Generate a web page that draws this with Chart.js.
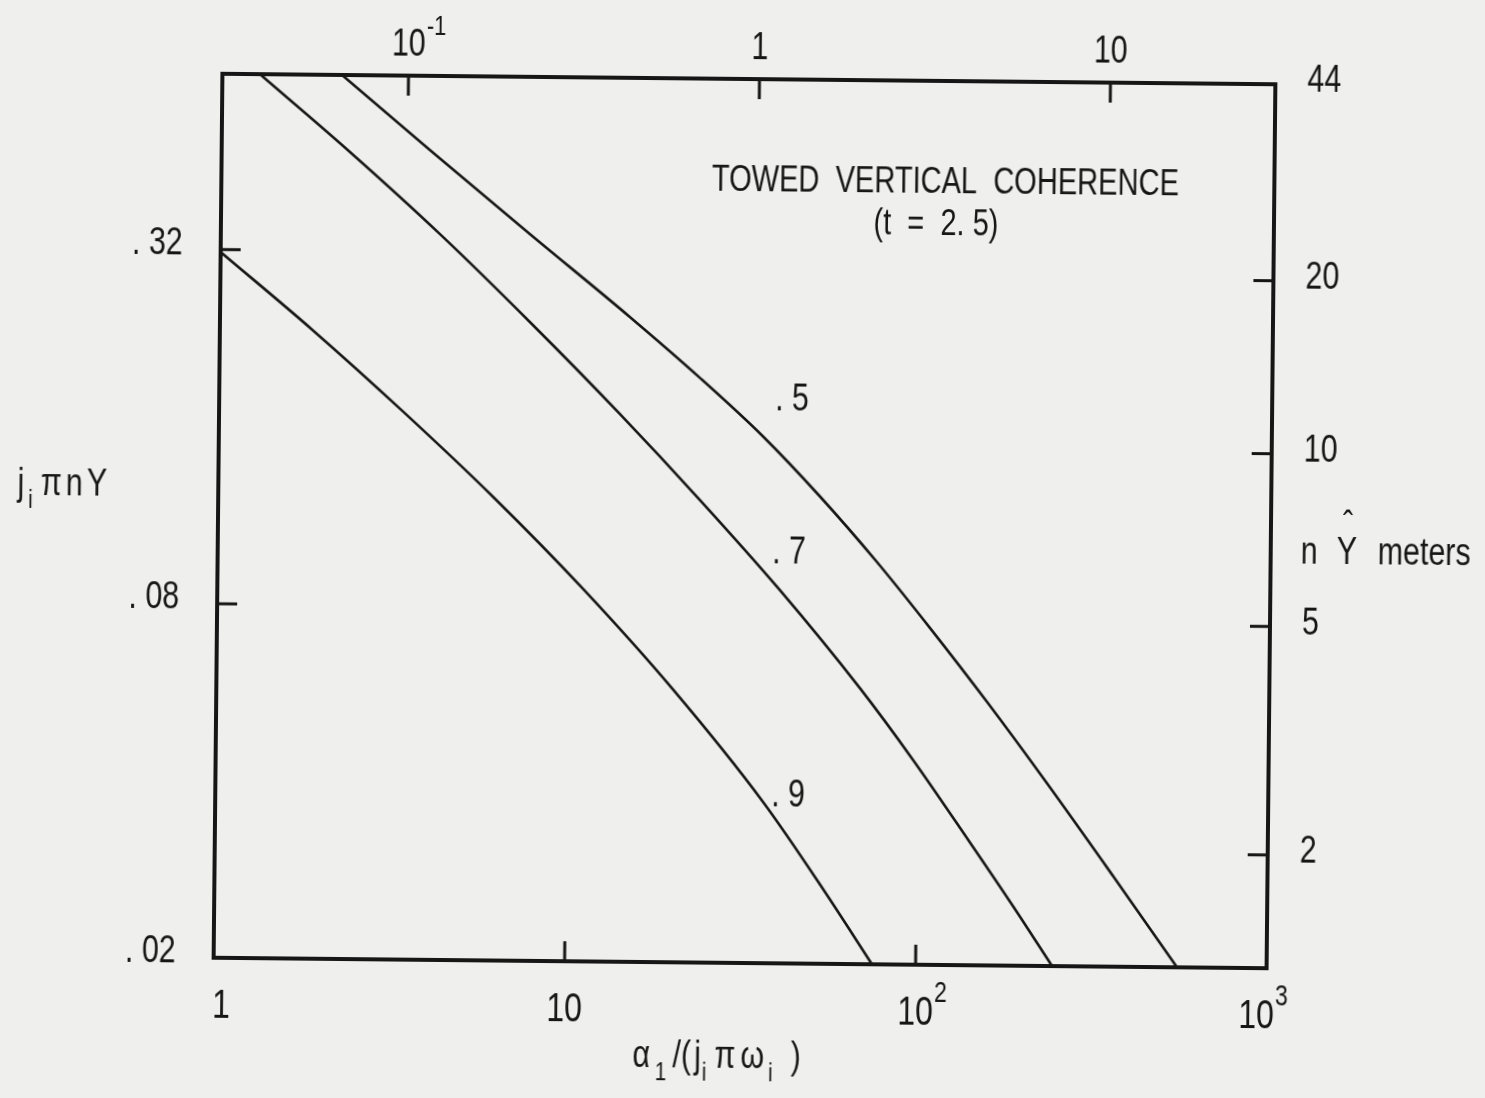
<!DOCTYPE html>
<html>
<head>
<meta charset="utf-8">
<title>Towed vertical coherence</title>
<script src="https://cdn.jsdelivr.net/npm/chart.js@4.4.0/dist/chart.umd.min.js"></script>
<style>
  html, body { margin: 0; padding: 0; background: #efefed; overflow: hidden; }
  #wrap { width: 1485px; height: 1098px; position: relative; overflow: hidden; }
  /* the plate sits slightly askew on the page */
  #chart { display: block; transform: rotate(0.57deg); transform-origin: 744px 521px; }
</style>
</head>
<body>
<div id="wrap"><canvas id="chart" width="1485" height="1098"></canvas></div>
<script>
// x = alpha_1/(j_i pi omega_i), y = j_i pi n Y ; one curve per coherence level
const coherence = ['.9', '.7', '.5'];

const xNine = [1, 1.842, 3.342, 6.064, 11.01, 20.00, 36.37, 54.22, 75.14];
const yNine = [0.3170, 0.2341, 0.1710, 0.1229, 0.0860, 0.0582, 0.0376, 0.0268, 0.02];

const xSeven = [1.279, 2.321, 4.210, 7.641, 13.88, 23.59, 40.10, 68.21, 97.02, 138.96, 188.8, 244.8];
const ySeven = [0.637, 0.4713, 0.3430, 0.2439, 0.1707, 0.1223, 0.0862, 0.0589, 0.0446, 0.0329, 0.02525, 0.02];

const xFive = [2.191, 3.922, 7.597, 14.72, 23.40, 35.51, 51.81, 75.62, 107.5, 157.1, 234.0, 363.0, 555.8];
const yFive = [0.637, 0.4765, 0.3442, 0.2497, 0.1973, 0.1573, 0.1246, 0.0966, 0.0748, 0.0561, 0.0409, 0.02853, 0.02];

// where the coherence value is written next to each curve
const tagText = ['. 9', '. 7', '. 5'];
const tagX = [42.85, 42.43, 42.85];
const tagY = [0.0385, 0.0997, 0.1816];

// axes
const bottomTicks = [1, 10, 100, 1000];
const bottomText = ['1', '10', '10^2', '10^3'];
const topTicks = [0.1, 1, 10];
const topText = ['10^-1', '1', '10'];
const leftTicks = [0.02, 0.08, 0.32];
const leftText = ['. 02', '. 08', '. 32'];
const rightTicks = [2, 5, 10, 20, 44];
const rightText = ['2', '5', '10', '20', '44'];

const titleLine1 = 'TOWED  VERTICAL  COHERENCE';
const titleLine2 = '(t  =  2. 5)';

const ink = '#161616';
const family = '"Liberation Sans", "DejaVu Sans", sans-serif';
const squeeze = 0.8;

function textWidth(ctx, text, size) {
  ctx.save();
  ctx.font = size + 'px ' + family;
  const w = ctx.measureText(text).width * squeeze;
  ctx.restore();
  return w;
}

function drawText(ctx, text, x, y, size, align, sx) {
  ctx.save();
  ctx.font = size + 'px ' + family;
  ctx.fillStyle = ink;
  ctx.textAlign = align || 'center';
  ctx.textBaseline = 'middle';
  ctx.translate(x, y);
  ctx.scale(sx || squeeze, 1);
  ctx.fillText(text, 0, 0);
  ctx.restore();
}

// '10^2' -> "10" with a small raised exponent
function drawTickText(ctx, text, x, y, size, align) {
  const parts = text.split('^');
  const bw = textWidth(ctx, parts[0], size);
  let left = x - bw / 2;
  if (align === 'left') left = x;
  if (align === 'right') left = x - bw;
  drawText(ctx, parts[0], left, y, size, 'left');
  if (parts[1]) drawText(ctx, parts[1], left + bw + 1, y - size * 0.5, size * 0.72, 'left');
}

// run of glyphs with optional subscripts, centred on cx
function drawRun(ctx, parts, cx, cy, size, gap) {
  const sizes = parts.map(p => (p.sub ? size * 0.68 : size));
  const widths = parts.map((p, i) => textWidth(ctx, p.t, sizes[i]));
  const total = widths.reduce((a, b) => a + b, 0) + parts.reduce((a, p) => a + (p.gap != null ? p.gap : gap), 0);
  let x = cx - total / 2;
  parts.forEach((p, i) => {
    x += p.gap != null ? p.gap : gap;
    drawText(ctx, p.t, x, cy + (p.sub ? size * 0.42 : 0), sizes[i], 'left');
    x += widths[i];
  });
}

const platePlugin = {
  id: 'plate',
  afterDatasetsDraw(chart) {
    const { ctx, chartArea: a, scales } = chart;
    const tick = 20;
    ctx.save();
    ctx.strokeStyle = ink;
    ctx.lineCap = 'butt';

    // inward tick marks (those at the corners fall on the frame)
    ctx.lineWidth = 3;
    ctx.beginPath();
    bottomTicks.forEach(v => {
      const px = scales.x.getPixelForValue(v);
      if (px > a.left + 4 && px < a.right - 4) { ctx.moveTo(px, a.bottom); ctx.lineTo(px, a.bottom - tick); }
    });
    topTicks.forEach(v => {
      const px = scales.x2.getPixelForValue(v);
      if (px > a.left + 4 && px < a.right - 4) { ctx.moveTo(px, a.top); ctx.lineTo(px, a.top + tick); }
    });
    leftTicks.forEach(v => {
      const py = scales.y.getPixelForValue(v);
      if (py > a.top + 4 && py < a.bottom - 4) { ctx.moveTo(a.left, py); ctx.lineTo(a.left + tick, py); }
    });
    rightTicks.forEach(v => {
      const py = scales.y2.getPixelForValue(v);
      if (py > a.top + 4 && py < a.bottom - 4) { ctx.moveTo(a.right, py); ctx.lineTo(a.right - tick, py); }
    });
    ctx.stroke();

    // frame
    ctx.lineWidth = 4;
    ctx.strokeRect(a.left, a.top, a.right - a.left, a.bottom - a.top);
    ctx.restore();

    // tick labels
    const fs = 38;
    bottomTicks.forEach((v, i) => {
      const px = Math.min(Math.max(scales.x.getPixelForValue(v), a.left + 8), a.right - 10);
      drawTickText(ctx, bottomText[i], px, a.bottom + 49, 40, 'center');
    });
    topTicks.forEach((v, i) => {
      const px = scales.x2.getPixelForValue(v);
      drawTickText(ctx, topText[i], px, a.top - 30, fs, 'center');
    });
    leftTicks.forEach((v, i) => {
      const py = Math.max(scales.y.getPixelForValue(v), a.top) - 5;
      drawTickText(ctx, leftText[i], a.left - 38, py, fs, 'right');
    });
    rightTicks.forEach((v, i) => {
      const py = Math.max(scales.y2.getPixelForValue(v), a.top) - 3;
      drawTickText(ctx, rightText[i], a.right + 32, py, fs, 'left');
    });

    // curve values
    tagText.forEach((t, i) => {
      drawText(ctx, t, scales.x.getPixelForValue(tagX[i]), scales.y.getPixelForValue(tagY[i]), fs, 'center');
    });

    // title, fitted to the lettering width
    ctx.save();
    ctx.font = '37px ' + family;
    const w1 = ctx.measureText(titleLine1).width;
    const w2 = ctx.measureText(titleLine2).width;
    ctx.restore();
    drawText(ctx, titleLine1, 942, 181, 37, 'center', 467 / w1);
    drawText(ctx, titleLine2, 933, 223, 37, 'center', 125 / w2);

    // axis names
    drawRun(ctx, [{ t: 'j', gap: 0 }, { t: 'i', sub: true }, { t: '\u03c0', gap: 8 }, { t: 'n' }, { t: 'Y' }], 62, 492, 38, 4);
    drawRun(ctx, [{ t: '\u03b1', gap: 0 }, { t: '1', sub: true, gap: 5 }, { t: '/(', gap: 6 }, { t: 'j' },
      { t: 'i', sub: true, gap: 1 }, { t: '\u03c0', gap: 8 }, { t: '\u03c9', gap: 5 }, { t: 'i', sub: true, gap: 4 },
      { t: ')', gap: 18 }], 722, 1058, 38, 3);
    drawText(ctx, 'n', 1301, 548, 38, 'left');
    drawText(ctx, 'Y', 1337, 548, 38, 'left');
    drawText(ctx, '\u02c6', 1343, 522, 38, 'left');
    drawText(ctx, 'meters', 1378, 548, 38, 'left');
  }
};

function curve(xs, ys) {
  return xs.map((x, i) => ({ x, y: ys[i] }));
}

function fixedSize(prop, size) {
  return scale => { scale[prop] = size; };
}

new Chart(document.getElementById('chart'), {
  type: 'line',
  data: {
    datasets: [
      { label: coherence[0], data: curve(xNine, yNine) },
      { label: coherence[1], data: curve(xSeven, ySeven) },
      { label: coherence[2], data: curve(xFive, yFive) },
    ].map(d => Object.assign(d, {
      borderColor: ink,
      borderWidth: 2.6,
      pointRadius: 0,
      fill: false,
      cubicInterpolationMode: 'monotone',
    })),
  },
  options: {
    responsive: false,
    animation: false,
    devicePixelRatio: 1,
    layout: { padding: 0 },
    plugins: { legend: { display: false }, tooltip: { enabled: false } },
    scales: {
      x: {
        type: 'logarithmic', position: 'bottom', min: 1, max: 1000,
        grid: { display: false }, border: { display: false }, ticks: { display: false },
        afterFit: fixedSize('height', 135),
      },
      x2: {
        type: 'logarithmic', position: 'top', min: 0.0295, max: 29.5,
        grid: { display: false }, border: { display: false }, ticks: { display: false },
        afterFit: fixedSize('height', 79),
      },
      y: {
        type: 'logarithmic', position: 'left', min: 0.02, max: 0.637,
        grid: { display: false }, border: { display: false }, ticks: { display: false },
        afterFit: fixedSize('width', 218),
      },
      y2: {
        type: 'logarithmic', position: 'right', min: 1.27, max: 44,
        grid: { display: false }, border: { display: false }, ticks: { display: false },
        afterFit: fixedSize('width', 214),
      },
    },
  },
  plugins: [platePlugin],
});
</script>
</body>
</html>
